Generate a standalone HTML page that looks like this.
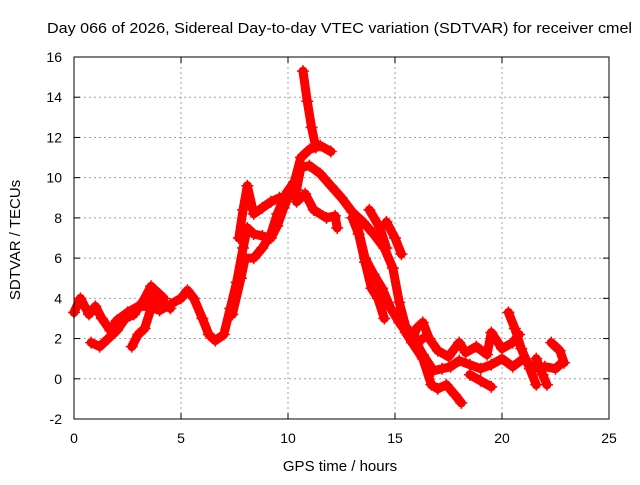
<!DOCTYPE html>
<html><head><meta charset="utf-8"><style>
body{margin:0;background:#fff}
svg text{font-family:"Liberation Sans",sans-serif;fill:#000}
</style></head><body>
<svg id="chart" width="640" height="480" xmlns="http://www.w3.org/2000/svg">
<text x="47" y="33" font-size="15" textLength="585" lengthAdjust="spacingAndGlyphs">Day 066 of 2026, Sidereal Day-to-day VTEC variation (SDTVAR) for receiver cmel</text>
<text x="340" y="471" font-size="15" text-anchor="middle">GPS time / hours</text>
<text x="20" y="240" font-size="15" text-anchor="middle" transform="rotate(-90 20 240)">SDTVAR / TECUs</text>
<g id="grid"></g>
<g id="ticks"></g>
<g id="marks"></g>
<rect x="74" y="57" width="535" height="362" fill="none" stroke="#000" stroke-width="1"/>
</svg>
<script>
const xTicks=[0,5,10,15,20,25];
const yTicks=[-2,0,2,4,6,8,10,12,14,16];
const t1h=[0,0.3,0.7,1.0,1.3,1.7,2.0,2.5,3.0,3.5,4.0,4.5,5.0,5.3,5.6,6.0,6.3,6.6,7.0,7.3,7.6,7.9,8.1,8.4,8.8,9.2,9.5,9.8,10.0,10.4,10.6,11.0,11.5,12.0,12.5,13.0,13.5,14.0,14.5,14.9,15.2,15.5,16.0,16.3,16.8,17.2,17.6,18.0,18.5,19.0,19.5,20.0,20.5,21.0,21.5,22.0,22.5,22.8];
const t1v=[3.3,4.0,3.2,3.6,3.0,2.4,2.9,3.3,3.6,3.6,3.4,3.7,4.0,4.4,4.0,3.0,2.2,1.9,2.2,3.5,4.8,6.5,7.5,7.2,7.1,7.0,7.6,8.5,9.0,9.4,10.5,10.6,10.2,9.6,9.0,8.3,7.8,7.2,6.5,5.5,3.8,2.6,1.8,1.2,0.4,0.5,0.6,0.9,0.7,0.5,0.7,1.0,0.6,1.0,0.5,0.6,0.5,0.8];
const t2h=[0.8,1.2,1.6,2.0,2.4,2.8,3.2,3.6,4.0,4.5];
const t2v=[1.8,1.6,2.0,2.4,3.0,3.2,3.8,4.6,3.8,3.5];
const t3h=[2.7,3.0,3.3,3.6,3.8,4.2];
const t3v=[1.6,2.2,2.5,3.5,4.4,4.0];
const t4h=[7.4,7.8,8.0,8.4,8.8,9.2,9.5,9.9,10.3,10.6,11.0,11.5,12.0];
const t4v=[3.2,5.0,6.0,6.0,6.5,7.2,8.2,9.2,9.8,11.0,11.4,11.6,11.3];
const t5h=[7.7,7.9,8.1,8.4,8.8,9.2,9.6];
const t5v=[7.0,8.4,9.6,8.2,8.5,8.8,9.0];
const t6h=[10.7,10.9,11.1,11.3];
const t6v=[15.3,13.8,12.5,11.5];
const t7h=[10.4,10.8,11.2,11.8,12.2,12.3];
const t7v=[8.8,9.2,8.4,8.0,8.1,7.5];
const t8h=[13.0,13.3,13.6,13.9,14.2,14.5];
const t8v=[8.0,7.2,5.8,4.5,4.0,3.0];
const t9h=[13.2,13.6,14.0,14.4,14.8,15.2,15.6,16.0,16.3];
const t9v=[7.8,6.0,5.2,4.5,3.5,2.8,2.2,1.8,2.0];
const t10h=[15.5,15.8,16.0,16.3,16.6,17.0,17.5,18.0,18.3,18.8,19.3,19.5,20.0,20.5,20.8];
const t10v=[2.3,1.8,2.5,2.8,2.0,1.4,1.1,1.8,1.3,1.6,1.2,2.3,1.5,1.8,2.2];
const t11h=[15.8,16.3,16.7,17.0,17.4,17.8,18.1];
const t11v=[1.8,1.0,-0.3,-0.5,-0.3,-0.8,-1.2];
const t12h=[20.3,20.6,20.9,21.3,21.6];
const t12v=[3.3,2.5,1.5,0.5,-0.3];
const t13h=[18.5,19.0,19.5];
const t13v=[0.2,-0.1,-0.4];
const t14h=[22.3,22.7,22.9];
const t14v=[1.8,1.4,0.8];
const t15h=[14.6,15.0,15.3];
const t15v=[7.8,7.0,6.2];
const t16h=[13.8,14.3,14.6];
const t16v=[8.4,7.5,6.5];
const t17h=[21.6,21.9,22.1];
const t17v=[1.0,0.2,-0.3];
const tracks=[[t1h,t1v],[t2h,t2v],[t3h,t3v],[t4h,t4v],[t5h,t5v],[t6h,t6v],[t7h,t7v],[t8h,t8v],[t9h,t9v],[t10h,t10v],[t11h,t11v],[t12h,t12v],[t13h,t13v],[t14h,t14v],[t15h,t15v],[t16h,t16v],[t17h,t17v]];
const NS="http://www.w3.org/2000/svg";
const X0=74,X1=609,Y0=419,Y1=57;
function xs(h){return X0+(h-0)/(25-0)*(X1-X0);}
function ys(v){return Y0-(v+2)/(16+2)*(Y0-Y1);}
const grid=document.getElementById('grid'),ticks=document.getElementById('ticks'),marks=document.getElementById('marks');
function mk(tag,attrs,parent){const e=document.createElementNS(NS,tag);for(const k in attrs)e.setAttribute(k,attrs[k]);parent.appendChild(e);return e;}
xTicks.forEach(t=>{
  const x=xs(t);
  if(t>0&&t<25){const g=mk('line',{x1:x,x2:x,y1:Y1,y2:Y0,stroke:'#a0a0a0','stroke-dasharray':'2,3'},grid);
  
  }
  mk('line',{x1:x,x2:x,y1:Y0,y2:Y0-6,stroke:'#000'},ticks);
  mk('line',{x1:x,x2:x,y1:Y1,y2:Y1+6,stroke:'#000'},ticks);
  const l=mk('text',{x:x,y:443,'font-size':'14','text-anchor':'middle'},ticks);l.textContent=t;
  
  
});
yTicks.forEach(t=>{
  const y=ys(t);
  if(t>-2&&t<16){const g=mk('line',{x1:X0,x2:X1,y1:y,y2:y,stroke:'#a0a0a0','stroke-dasharray':'2,3'},grid);
  
  }
  mk('line',{x1:X0,x2:X0+6,y1:y,y2:y,stroke:'#000'},ticks);
  mk('line',{x1:X1,x2:X1-6,y1:y,y2:y,stroke:'#000'},ticks);
  const l=mk('text',{x:62,y:y+5,'font-size':'14','text-anchor':'end'},ticks);l.textContent=t;
  
  
});
tracks.forEach(([hs,vs])=>{
  const pts=hs.map((h,i)=>xs(h)+','+ys(vs[i])).join(' ');
  const pl=mk('polyline',{points:pts,fill:'none',stroke:'#ff0000','stroke-width':'9','stroke-linejoin':'round','stroke-linecap':'round'},marks);
  
  
  hs.forEach((h,i)=>{
    const x=xs(h),y=ys(vs[i]);
    const p=mk('path',{d:`M${x-6},${y}H${x+6}M${x},${y-6}V${y+6}`,stroke:'#ff0000','stroke-width':'1.5'},marks);
    
    
  });
});
</script>
</body></html>
